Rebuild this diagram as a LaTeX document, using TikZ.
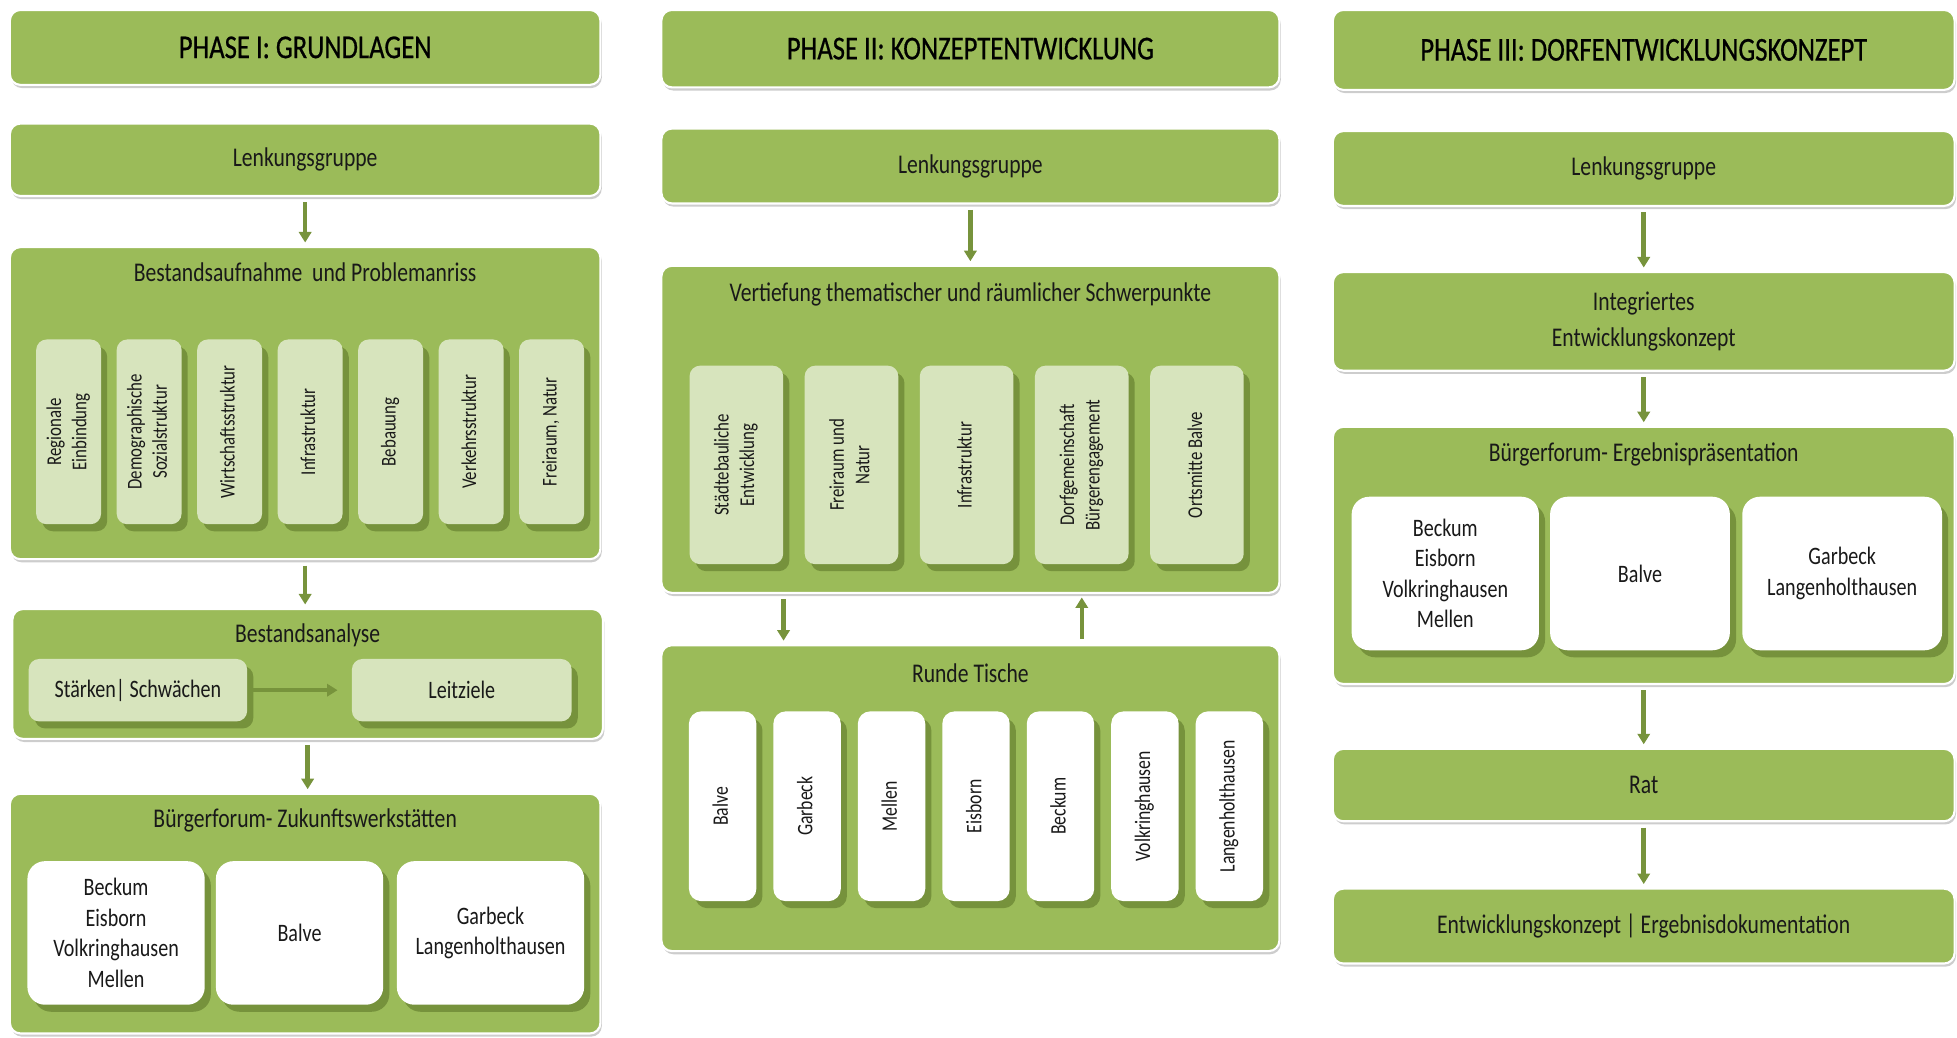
\documentclass[tikz,border=0pt]{standalone}
\usepackage{fontspec}
\setmainfont[FakeStretch=0.8]{Carlito}
\newfontfamily\phasefont[FakeStretch=0.8, FakeBold=0.6]{Carlito}
\usepackage{tikz}
\usetikzlibrary{arrows.meta, shadows}
\definecolor{dorfgreen}{RGB}{155,187,89}
\definecolor{dorflight}{RGB}{215,228,189}
\definecolor{dorfdark}{RGB}{118,146,60}
\definecolor{dorfarrow}{RGB}{119,147,60}
\definecolor{dorfgray}{RGB}{205,205,205}
\newcommand{\vtext}[1]{\rotatebox{90}{\begin{tabular}{@{}c@{}}#1\end{tabular}}}

\begin{document}
\begin{tikzpicture}[
    x=0.025cm, y=-0.025cm,
    panel/.style={rectangle, rounded corners=6pt, draw=white, line width=1.2pt, fill=dorfgreen, drop shadow={shadow xshift=0.8pt, shadow yshift=-1.8pt, fill=dorfgray, opacity=1}, font=\fontsize{15.4}{20.6}\selectfont, align=center, text=black!90},
    phase/.style={panel, font=\phasefont\fontsize{19}{22}\selectfont, text=black},
    ttl/.style={font=\fontsize{15.4}{18}\selectfont, text=black!90},
    sub/.style={rectangle, rounded corners=6pt, fill=dorflight, drop shadow={shadow xshift=3.5pt, shadow yshift=-4pt, fill=dorfdark, opacity=1}, font=\fontsize{12}{14.5}\selectfont, text=black!90, inner sep=0pt},
    place/.style={rectangle, rounded corners=10pt, fill=white, drop shadow={shadow xshift=3.5pt, shadow yshift=-4pt, fill=dorfdark, opacity=1}, font=\fontsize{14.3}{17.4}\selectfont, text=black!90, align=center, inner sep=0pt},
    arr/.style={-{Triangle[length=6pt, width=7pt]}, line width=2.6pt, dorfarrow, shorten <=3pt, shorten >=2pt}
]
\useasboundingbox (0,0) rectangle (1568,831);

% Phase I
\node[phase, minimum width=11.825cm, minimum height=1.5cm] (hdrI) at (244.5,38) {PHASE I: GRUNDLAGEN};
\node[panel, minimum width=11.825cm, minimum height=1.45cm] (lenkI) at (244.5,128) {Lenkungsgruppe};

\node[panel, minimum width=11.825cm, minimum height=6.25cm] (aufnahme) at (244.5,323) {};
\node[ttl] (aufnahmeT) at (244.5,218) {Bestandsaufnahme\ \ und Problemanriss};
\foreach \t [count=\i] in {{Regionale\\Einbindung}, {Demographische\\Sozialstruktur}, {Wirtschaftsstruktur}, {Infrastruktur}, {Bebauung}, {Verkehrsstruktur}, {Freiraum, Natur}} {
    \node[sub, minimum width=1.3cm, minimum height=3.7cm] (auf\i) at ({55+64.5*(\i-1)},346) {\vtext{\t}};
}

\node[panel, minimum width=11.825cm, minimum height=2.6cm] (analyse) at (246.5,540) {};
\node[ttl] (analyseT) at (246.5,509) {Bestandsanalyse};
\node[sub, font=\fontsize{14.3}{17}\selectfont, minimum width=4.375cm, minimum height=1.25cm] (staerken) at (110.5,553) {Stärken| Schwächen};
\node[sub, font=\fontsize{14.3}{17}\selectfont, minimum width=4.4cm, minimum height=1.25cm] (leitziele) at (370,553) {Leitziele};

\node[panel, minimum width=11.825cm, minimum height=4.8cm] (forumI) at (244.5,732) {};
\node[ttl] (forumIT) at (244.5,657) {Bürgerforum- Zukunftswerkstätten};
\node[place, minimum width=3.55cm, minimum height=2.875cm] (fI1) at (93,747.5) {Beckum\\Eisborn\\Volkringhausen\\Mellen};
\node[place, minimum width=3.35cm, minimum height=2.875cm] (fI2) at (240,747.5) {Balve};
\node[place, minimum width=3.75cm, minimum height=2.875cm] (fI3) at (393,747.5) {Garbeck\\Langenholthausen};

\draw[arr] (lenkI) -- (aufnahme);
\draw[arr] (aufnahme.south) -- (aufnahme.south |- analyse.north);
\draw[arr, shorten >=8pt] (staerken) -- (leitziele);
\draw[arr] (analyse.south) -- (analyse.south |- forumI.north);

% Phase II
\node[phase, minimum width=12.375cm, minimum height=1.55cm] (hdrII) at (777.5,39) {PHASE II: KONZEPTENTWICKLUNG};
\node[panel, minimum width=12.375cm, minimum height=1.5cm] (lenkII) at (777.5,133) {Lenkungsgruppe};

\node[panel, minimum width=12.375cm, minimum height=6.55cm] (vertiefung) at (777.5,344) {};
\node[ttl] (vertiefungT) at (777.5,236) {Vertiefung thematischer und räumlicher Schwerpunkte};
\foreach \t [count=\i] in {{Städtebauliche\\Entwicklung}, {Freiraum und\\Natur}, {Infrastruktur}, {Dorfgemeinschaft\\Bürgerengagement}, {Ortsmitte Balve}} {
    \node[sub, minimum width=1.875cm, minimum height=3.975cm] (vt\i) at ({590+92.25*(\i-1)},372.5) {\vtext{\t}};
}

\node[panel, minimum width=12.375cm, minimum height=6.125cm] (runde) at (777.5,639.5) {};
\node[ttl] (rundeT) at (777.5,539) {Runde Tische};
\foreach \t [count=\i] in {Balve, Garbeck, Mellen, Eisborn, Beckum, Volkringhausen, Langenholthausen} {
    \node[place, rounded corners=7pt, font=\fontsize{12.6}{15}\selectfont, minimum width=1.35cm, minimum height=3.8cm] (rt\i) at ({579+67.67*(\i-1)},646) {\vtext{\t}};
}

\draw[arr] (lenkII) -- (vertiefung);
\draw[arr] (vt1.east |- vertiefung.south) -- (vt1.east |- runde.north);
\draw[arr] (vt4 |- runde.north) -- (vt4 |- vertiefung.south);

% Phase III
\node[phase, minimum width=12.45cm, minimum height=1.6cm] (hdrIII) at (1317,40) {PHASE III: DORFENTWICKLUNGSKONZEPT};
\node[panel, minimum width=12.45cm, minimum height=1.5cm] (lenkIII) at (1317,135) {Lenkungsgruppe};
\node[panel, minimum width=12.45cm, minimum height=1.975cm] (konzept) at (1317,257.5) {Integriertes\\Entwicklungskonzept};

\node[panel, minimum width=12.45cm, minimum height=5.15cm] (forumIII) at (1317,445) {};
\node[ttl] (forumIIIT) at (1317,364) {Bürgerforum- Ergebnispräsentation};
\node[place, minimum width=3.75cm, minimum height=3.075cm] (fIII1) at (1158,459.5) {Beckum\\Eisborn\\Volkringhausen\\Mellen};
\node[place, minimum width=3.6cm, minimum height=3.075cm] (fIII2) at (1314,459.5) {Balve};
\node[place, minimum width=4cm, minimum height=3.075cm] (fIII3) at (1476,459.5) {Garbeck\\Langenholthausen};

\node[panel, minimum width=12.45cm, minimum height=1.45cm] (rat) at (1317,629) {Rat};
\node[panel, minimum width=12.45cm, minimum height=1.5cm] (doku) at (1317,742) {Entwicklungskonzept | Ergebnisdokumentation};

\draw[arr] (lenkIII) -- (konzept);
\draw[arr] (konzept) -- (forumIII);
\draw[arr] (forumIII) -- (rat);
\draw[arr] (rat) -- (doku);

\end{tikzpicture}
\end{document}
